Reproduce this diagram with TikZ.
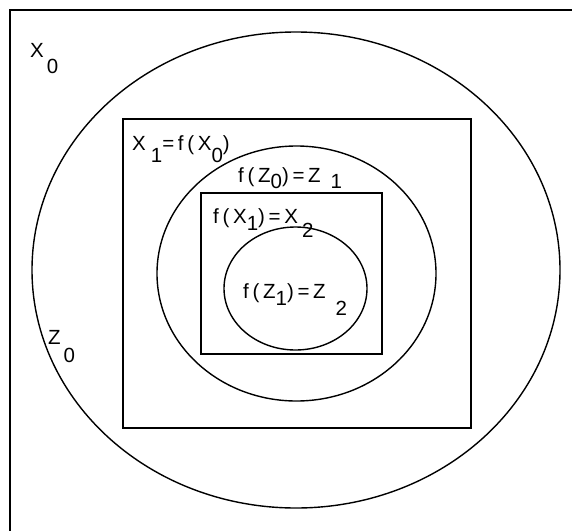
\documentclass[tikz,border=0pt]{standalone}
\usepackage{fontspec}
\setmainfont{Liberation Sans}[LetterSpace=18]
\usetikzlibrary{shapes.geometric}
\newcommand\lo[2]{\raisebox{-#1pt}{#2}}
\begin{document}
\begin{tikzpicture}[x=1pt,y=-1pt,
  ell/.style={draw, ellipse, line width=1.4pt, inner sep=0pt},
  box/.style={draw, rectangle, line width=1.8pt, inner sep=0pt},
  lab/.style={inner sep=0pt, anchor=base west, font=\fontsize{20.5}{24}\selectfont}]
\useasboundingbox (0,0) rectangle (572,530);
% frame
\coordinate (ftr) at (573,10);
\coordinate (ftl) at (10,10);
\coordinate (fbl) at (10,531);
\draw[line width=2pt] (ftr) -- (ftl) -- (fbl);
% shapes
\node[ell, minimum width=528pt, minimum height=476pt] (outer) at (296,270) {};
\node[box, minimum width=348pt, minimum height=309pt] (bigrect) at (297,273.5) {};
\node[ell, minimum width=279pt, minimum height=255pt] (middle) at (296.5,273.5) {};
\node[box, minimum width=181pt, minimum height=161pt] (innerrect) at (291.5,273.5) {};
\node[ell, minimum width=143pt, minimum height=123pt] (inner) at (295.5,288.5) {};
% labels
\node[lab] (x0) at (30,57) {X\hspace{3pt}\lo{16}{0}};
\node[lab] (z0) at (48,344) {Z\hspace{3pt}\lo{18}{0}};
\node[lab] (x1) at (132,150) {X\hspace{5pt}\lo{12}{1}=f(X\lo{12}{0})};
\node[lab] (fz0) at (238,182) {f(Z\lo{6}{0})=Z\hspace{10pt}\lo{6}{1}};
\node[lab] (fx1) at (213,223) {f(X\lo{7}{1})=X\hspace{4pt}\lo{14}{2}};
\node[lab] (fz1) at (243,298) {f(Z\lo{7}{1})=Z\hspace{10pt}\lo{17}{2}};
\end{tikzpicture}
\end{document}
